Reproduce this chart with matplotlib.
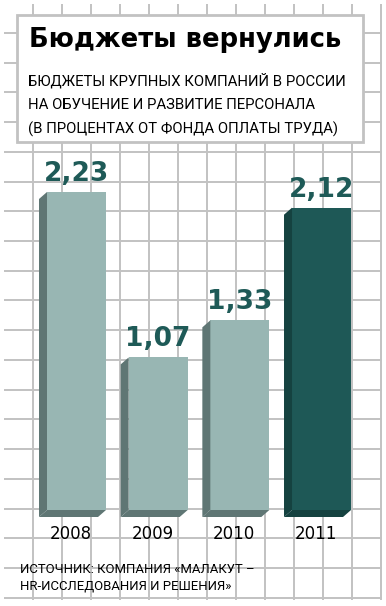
import matplotlib
matplotlib.use("Agg")
import numpy as np
import matplotlib.pyplot as plt
from matplotlib.patches import Polygon, Rectangle

years = ["2008", "2009", "2010", "2011"]
values = [2.23, 1.07, 1.33, 2.12]
highlight = [False, False, False, True]

title = "Бюджеты вернулись"
subtitle = ["БЮДЖЕТЫ КРУПНЫХ КОМПАНИЙ В РОССИИ",
            "НА ОБУЧЕНИЕ И РАЗВИТИЕ ПЕРСОНАЛА",
            "(В ПРОЦЕНТАХ ОТ ФОНДА ОПЛАТЫ ТРУДА)"]
source = ["ИСТОЧНИК: КОМПАНИЯ «МАЛАКУТ –",
          "HR-ИССЛЕДОВАНИЯ И РЕШЕНИЯ»"]

light_front = "#98b6b3"
light_side = "#5f7674"
dark_front = "#1e5856"
dark_side = "#154240"
label_color = "#1e5a57"
grid_color = "#c2c2c2"
narrow = ["Roboto", "DejaVu Sans"]

W, H = 386, 606
fig = plt.figure(figsize=(W / 100, H / 100), dpi=100)
fig.patch.set_facecolor("white")
renderer = fig.canvas.get_renderer()

def px(x, y):
    # pixel position (from top-left) -> figure fraction
    return x / W, 1 - y / H

def fit_width(t, target):
    # shrink/grow a text so its first line spans the target pixel width
    w = t.get_window_extent(renderer).width
    t.set_fontsize(t.get_fontsize() * target / w)
    return t.get_fontsize()

# background grid
bg = fig.add_axes([4 / W, 1 - 600 / H, 378 / W, 596 / H])
bg.set_xlim(4, 382)
bg.set_ylim(600, 4)
bg.set_xticks(33 + 29.0 * np.arange(13))
bg.set_yticks(33 + 29.72 * np.arange(20))
bg.grid(True, color=grid_color, lw=1.4)
bg.tick_params(length=0, labelbottom=False, labelleft=False)
for s in bg.spines.values():
    s.set_visible(False)

# title box
box = fig.add_axes([0, 0, 1, 1])
box.set_xlim(0, W)
box.set_ylim(H, 0)
box.axis("off")
box.patch.set_alpha(0)
box.add_patch(Rectangle((17, 15), 346, 127, facecolor="white",
                        edgecolor=grid_color, lw=2))

t = fig.text(*px(29, 47), title, fontsize=19, fontweight="heavy",
             color="black", va="baseline", ha="left")
fit_width(t, 313)

sub_size = None
for i, line in enumerate(subtitle):
    t = fig.text(*px(28, 85 + 24.5 * i), line, fontsize=12,
                 family=narrow, color="black", va="baseline", ha="left")
    if sub_size is None:
        sub_size = fit_width(t, 318)
    else:
        t.set_fontsize(sub_size)

src_size = None
for i, line in enumerate(source):
    t = fig.text(*px(20, 573 + 16.5 * i), line, fontsize=10,
                 family=narrow, color="black", va="baseline", ha="left")
    if src_size is None:
        src_size = fit_width(t, 234)
    else:
        t.set_fontsize(src_size)

# bars: index i at 76.5 + 81.67*i px, value 0 at y=510 px, 142.6 px per unit
ax = fig.add_axes([0, 0, 1, 1])
ax.patch.set_alpha(0)
ax.axis("off")
step, scale = 81.67, 142.6
ax.set_xlim(-76.5 / step, (W - 76.5) / step)
ax.set_ylim(-(H - 510) / scale, 510 / scale)

x = np.arange(len(years))
width = 59 / step
dx, dy = 8 / step, 7 / scale
fronts = [dark_front if h else light_front for h in highlight]
sides = [dark_side if h else light_side for h in highlight]
ax.bar(x, values, width=width, color=fronts, zorder=3)

for xi, v, side, year in zip(x, values, sides, years):
    x0, x1 = xi - width / 2, xi + width / 2
    ax.add_patch(Polygon([(x0 - dx, v - dy), (x0, v), (x0, 0), (x0 - dx, -dy)],
                         closed=True, facecolor=side, edgecolor="none", zorder=3))
    ax.add_patch(Polygon([(x0 - dx, -dy), (x0, 0), (x1, 0), (x1 - dx, -dy)],
                         closed=True, facecolor=side, edgecolor="none", zorder=3))
    ax.annotate(f"{v:.2f}".replace(".", ","), (xi, v), xytext=(0, 8),
                textcoords="offset points", ha="center", va="baseline",
                fontsize=19, fontweight="bold", color=label_color)
    ax.text(xi - dx / 2 - 0.02, -24 / scale, year, ha="center", va="center",
            fontsize=12, color="black")

fig.savefig("out.png", dpi=100, facecolor="white")
